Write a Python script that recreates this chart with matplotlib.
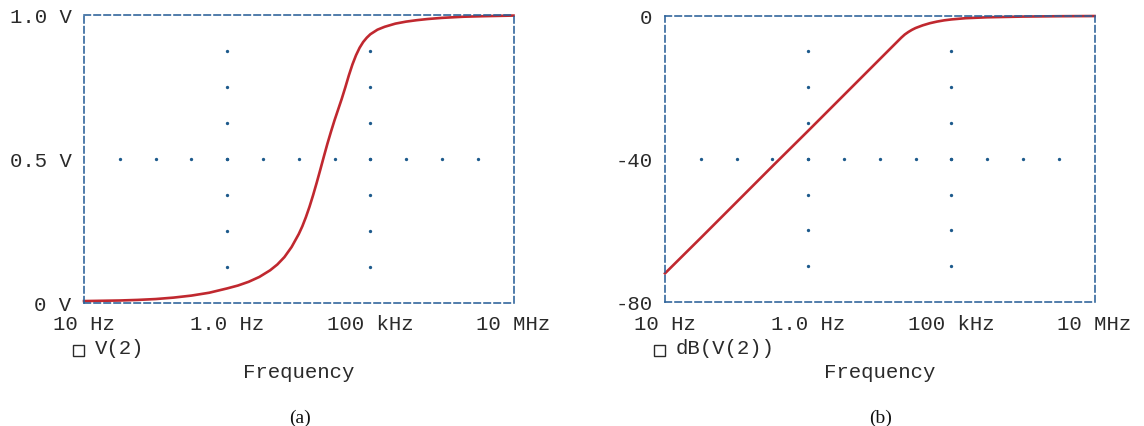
import numpy as np
import matplotlib
matplotlib.use("Agg")
import matplotlib.pyplot as plt
from matplotlib.patches import Rectangle

# ---- data ----
freq_a = [10, 17.8, 31.6, 56.2, 100, 178, 316, 562, 1000, 1413, 1995, 2818, 3981,
          5012, 6310, 7943, 10000, 11220, 12589, 14125, 15849, 17783, 19953, 22387,
          25119, 28184, 31623, 35481, 39811, 44668, 50119, 56234, 63096, 70795,
          79433, 89125, 100000, 125893, 158489, 223872, 316228, 446684, 630957,
          1000000, 1995262, 3981072, 10000000]
v2 = [0.005, 0.006, 0.007, 0.009, 0.012, 0.017, 0.024, 0.034, 0.049, 0.059, 0.072,
      0.089, 0.112, 0.132, 0.158, 0.193, 0.238, 0.265, 0.297, 0.333, 0.373, 0.416,
      0.461, 0.507, 0.552, 0.594, 0.634, 0.671, 0.708, 0.748, 0.790, 0.828, 0.860,
      0.886, 0.906, 0.921, 0.933, 0.949, 0.959, 0.970, 0.977, 0.982, 0.986,
      0.990, 0.994, 0.996, 0.998]

freq_b = [10, 31.6, 100, 316, 1000, 3162, 7943, 12589, 15849, 17783, 19953, 22387,
          25119, 28184, 31623, 39811, 50119, 63096, 79433, 100000, 158489, 316228,
          1000000, 3162278, 10000000]
db_v2 = [-72.0, -62.1, -52.1, -42.1, -32.2, -22.2, -14.2, -10.2, -8.2, -7.2, -6.2,
         -5.3, -4.6, -4.0, -3.5, -2.75, -2.15, -1.7, -1.35, -1.1, -0.75, -0.5,
         -0.3, -0.2, -0.15]

x_ticks = [10, 1e3, 1e5, 1e7]
x_ticklabels = ["10 Hz", "1.0 Hz", "100 kHz", "10 MHz"]
ya_ticks = [0, 0.5, 1.0]
ya_ticklabels = ["0 V", "0.5 V", "1.0 V"]
yb_ticks = [-80, -40, 0]
yb_ticklabels = ["-80", "-40", "0"]

# ---- style ----
plt.rcParams['lines.scale_dashes'] = False
W, H = 1144, 427
fig = plt.figure(figsize=(W / 100, H / 100), dpi=100)

MONO = "Liberation Mono"
FS = 14.9
TXT = "#2a2a2a"
RED = "#c0282f"
BLUE = "#2a6199"
DOT = "#1d5a8c"


def fx(px):
    return px / W


def fy(py):
    return 1 - py / H


def make_axes(left_px, right_px, top_px, bottom_px):
    ax = fig.add_axes([fx(left_px), fy(bottom_px), (right_px - left_px) / W,
                       (bottom_px - top_px) / H])
    for s in ax.spines.values():
        s.set_linestyle((0, (4.6, 2.6)))
        s.set_color(BLUE)
        s.set_linewidth(1.15)
    ax.tick_params(length=0, labelsize=FS)
    return ax


def style_ticks(ax, yticks, ylabels):
    ax.set_xscale("log")
    ax.set_xlim(10, 1e7)
    ax.set_xticks(x_ticks)
    ax.set_xticklabels(x_ticklabels, fontfamily=MONO, fontsize=FS, color=TXT)
    ax.xaxis.set_minor_locator(matplotlib.ticker.NullLocator())
    ax.set_yticks(yticks)
    ax.set_yticklabels(ylabels, fontfamily=MONO, fontsize=FS, color=TXT)
    ax.tick_params(axis="x", pad=8.5)
    ax.tick_params(axis="y", pad=9)


hx = [10 ** (1 + 0.5 * k) for k in range(1, 12)]

# ---------------- panel (a) ----------------
ax1 = make_axes(84, 513.5, 16, 303.5)
style_ticks(ax1, ya_ticks, ya_ticklabels)
ax1.set_ylim(0, 1.0)
ax1.plot(hx, [0.5] * len(hx), ls="none", marker="o", ms=2.4, color=DOT, mew=0)
for gx in [1e3, 1e5]:
    gy = [0.125 * k for k in range(1, 8)]
    ax1.plot([gx] * len(gy), gy, ls="none", marker="o", ms=2.4, color=DOT, mew=0)
ax1.plot(freq_a, v2, color=RED, lw=1.9, clip_on=False, solid_joinstyle="round")

# ---------------- panel (b) ----------------
ax2 = make_axes(665, 1094.5, 16.5, 303)
style_ticks(ax2, yb_ticks, yb_ticklabels)
ax2.set_ylim(-80, 0)
ax2.plot(hx, [-40] * len(hx), ls="none", marker="o", ms=2.4, color=DOT, mew=0)
for gx in [1e3, 1e5]:
    gy = [-10 * k for k in range(1, 8)]
    ax2.plot([gx] * len(gy), gy, ls="none", marker="o", ms=2.4, color=DOT, mew=0)
ax2.plot(freq_b, db_v2, color=RED, lw=1.9, clip_on=False, solid_joinstyle="round")

# ---- legends, axis titles, captions ----
for sq_left, txt, cx, cap in [(73, "V(2)", 298.5, "(a)"), (654, "dB(V(2))", 879.5, "(b)")]:
    fig.add_artist(Rectangle((fx(sq_left), fy(357)), 11 / W, 11 / H,
                             transform=fig.transFigure, fill=False,
                             ec=TXT, lw=1.0))
    fig.text(fx(sq_left + 22), fy(349), txt, fontfamily=MONO, fontsize=FS,
             ha="left", va="center", color=TXT)
    fig.text(fx(cx), fy(373), "Frequency", fontfamily=MONO, fontsize=FS,
             ha="center", va="center", color=TXT)
    fig.text(fx(cx + 1), fy(418), cap, fontfamily="Liberation Serif", fontsize=14,
             ha="center", va="center", color="#111111")

fig.savefig("out.png", dpi=100)
